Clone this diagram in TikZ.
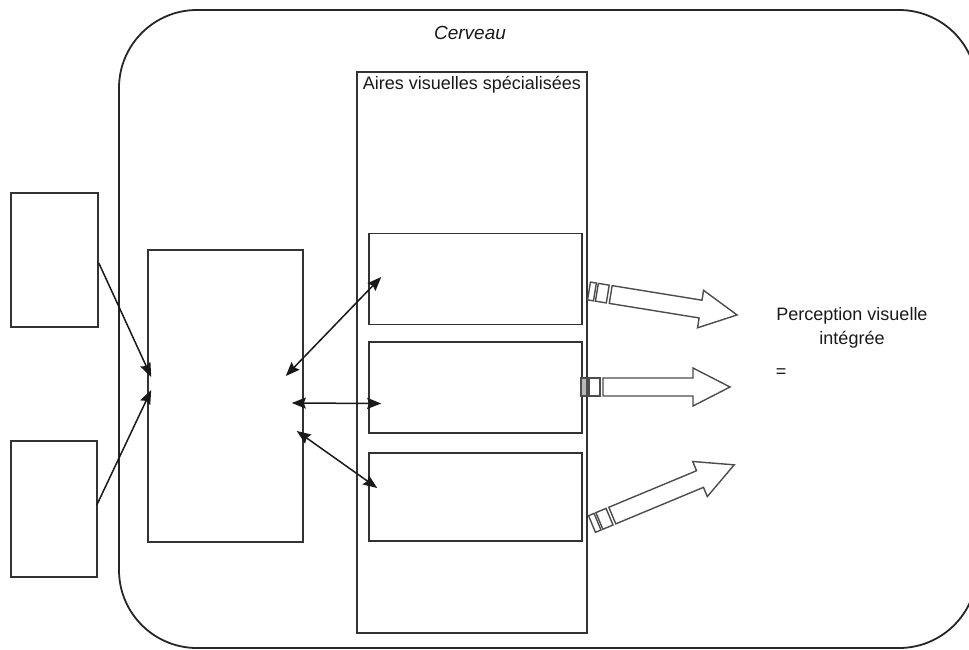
\documentclass[tikz,border=0pt]{standalone}
\usepackage{fontspec}
\setmainfont{Liberation Sans}
\usetikzlibrary{arrows.meta,calc}
\newcommand\hollowarr[4]{%
  \begin{scope}[shift={#1},rotate=#2]
    \draw[hollow, fill=#4] (0,-9) rectangle (6,9);
    \draw[hollow] (8,-9) rectangle (19,9);
    \draw[hollow] (22,-9) -- ({#3-37},-9) -- ({#3-37},-19) -- (#3,0)
      -- ({#3-37},19) -- ({#3-37},9) -- (22,9) -- cycle;
  \end{scope}}
\begin{document}
\begin{tikzpicture}[x=1pt,y=-1pt,
  box/.style={draw=black!80, line width=1.6pt, rectangle, inner sep=0pt},
  tip/.tip={Stealth[length=14pt,width=11pt,inset=2pt]},
  link/.style={line width=1.5pt, draw=black!90, tip-tip},
  onelink/.style={line width=1.5pt, draw=black!90, -tip},
  hollow/.style={draw=black!70, line width=1.4pt, fill=white, line join=miter},
  lbl/.style={font=\fontsize{18}{24}\selectfont, inner sep=0pt, text=black!90}]
\useasboundingbox (0,0) rectangle (969,650);
% brain
\node[box, draw=black!85, line width=1.8pt, rounded corners=78pt,
      minimum width=858pt, minimum height=638pt] (brain) at (548,329) {};
\node[lbl, font=\fontsize{19}{24}\selectfont\itshape] (cerveau) at (470,33) {Cerveau};
% left boxes
\node[box, minimum width=87pt, minimum height=134pt] (L1) at (54.5,260) {};
\node[box, minimum width=86pt, minimum height=136pt] (L2) at (54,509) {};
% middle box
\node[box, minimum width=155pt, minimum height=292pt] (M) at (225.5,396) {};
% column
\node[box, minimum width=230pt, minimum height=561pt] (col) at (472,352.5) {};
\node[lbl, anchor=north] (title) at ($(col.north)+(0,5)$) {Aires visuelles spécialisées};
% inner boxes
\node[box, minimum width=213pt, minimum height=91pt] (V1) at (475.5,279) {};
\node[box, minimum width=213pt, minimum height=91pt] (V2) at (475.5,387.5) {};
\node[box, minimum width=213pt, minimum height=88pt] (V3) at (475.5,497) {};
% arrows to middle box
\draw[onelink] ($(L1.east)+(0,3)$) -- ($(M.west)+(4,-19)$);
\draw[onelink] ($(L2.east)+(-1,-4)$) -- ($(M.west)+(4,-6)$);
% double arrows
\draw[link] ($(M.east)+(-18,-20)$) -- ($(V1.west)+(13,-2)$);
\draw[link] ($(M.east)+(-12,7)$) -- ($(V2.west)+(13,16)$);
\draw[link] ($(M.east)+(-7,35)$) -- ($(V3.west)+(9,-9)$);
% hollow arrows
\hollowarr{(589,291)}{-9.2}{150}{white}
\hollowarr{(581,387)}{0}{149}{gray!55}
\hollowarr{(592,524)}{22.6}{154}{white}
% perception
\node[lbl, align=center] (perc) at (852,328) {Perception visuelle\\intégrée};
\node[lbl] (eq) at (781,373) {=};
\end{tikzpicture}
\end{document}
